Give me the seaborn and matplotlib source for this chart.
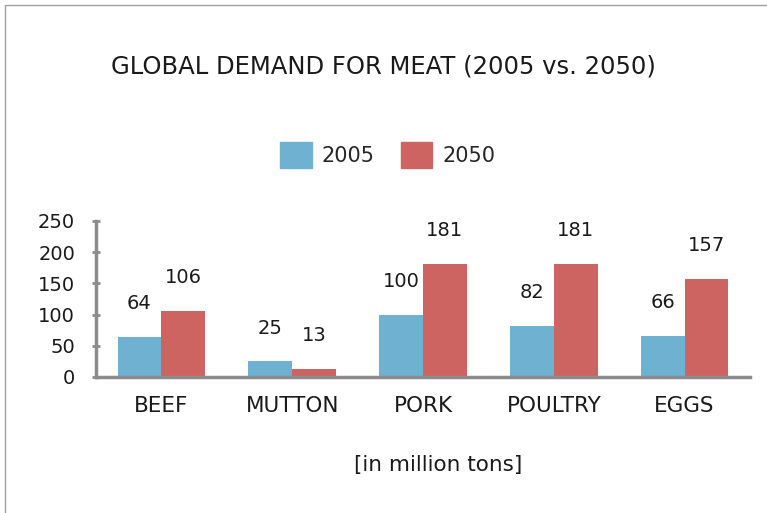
import pandas as pd
import seaborn as sns
import matplotlib.pyplot as plt
from matplotlib.lines import Line2D

# Data
categories = ['BEEF', 'MUTTON', 'PORK', 'POULTRY', 'EGGS']
demand_2005 = [64, 25, 100, 82, 66]
demand_2050 = [106, 13, 181, 181, 157]
years = ['2005', '2050']
y_ticks = [0, 50, 100, 150, 200, 250]

df = pd.DataFrame({
    'Category': categories * 2,
    'Year': [years[0]] * len(categories) + [years[1]] * len(categories),
    'Demand': demand_2005 + demand_2050,
})

sns.set_style('white')
plt.rcParams['font.family'] = ['DejaVu Sans']

fig = plt.figure(figsize=(7.67, 5.13), dpi=100)
ax = fig.add_axes([96 / 767, 1 - 377 / 513, 654 / 767, 156 / 513])

sns.barplot(data=df, x='Category', y='Demand', hue='Year', order=categories,
            hue_order=years, palette=['#6EB1D1', '#CD6462'], width=0.67,
            gap=0, saturation=1, linewidth=0, ax=ax, legend=True)

# value labels floating above each bar
for c in ax.containers:
    ax.bar_label(c, padding=17, fontsize=14, color='#1a1a1a')

ax.set_ylim(0, 250)
ax.set_xlim(-0.5, 4.5)
ax.set_yticks(y_ticks)
ax.set_xlabel('')
ax.set_ylabel('')

for side in ['top', 'right']:
    ax.spines[side].set_visible(False)
for side in ['left', 'bottom']:
    ax.spines[side].set_color('#8C8C8C')
    ax.spines[side].set_linewidth(2.5)
    ax.spines[side].set_visible(True)
ax.spines['left'].set_bounds(0, 250)

ax.tick_params(axis='y', direction='inout', length=6, width=2, color='#8C8C8C',
               labelsize=14, pad=12, labelcolor='#1a1a1a', left=True)
ax.tick_params(axis='x', length=0, labelsize=15.5, pad=14, labelcolor='#1a1a1a')

ax.get_legend().remove()
handles = [plt.Rectangle((0, 0), 1, 1, color=col) for col in ['#6EB1D1', '#CD6462']]
fig.legend(handles, years, loc='center', bbox_to_anchor=(388 / 767, 1 - 155 / 513),
           ncol=2, frameon=False, fontsize=15, handlelength=1.5, handleheight=1.5,
           handletextpad=0.5, columnspacing=1.25)

fig.text(383 / 767, 1 - 67 / 513, 'GLOBAL DEMAND FOR MEAT (2005 vs. 2050)',
         ha='center', va='center', fontsize=17.5, color='#1a1a1a')
fig.text(438 / 767, 1 - 465 / 513, '[in million tons]',
         ha='center', va='center', fontsize=15.5, color='#1a1a1a')

# thin grey frame at top and left edges
fig.add_artist(Line2D([5 / 767, 5 / 767], [0, 1 - 5 / 513], color='#A0A0A0', lw=1))
fig.add_artist(Line2D([5 / 767, 1], [1 - 5 / 513, 1 - 5 / 513], color='#A0A0A0', lw=1))

plt.savefig('out.png', dpi=100)
